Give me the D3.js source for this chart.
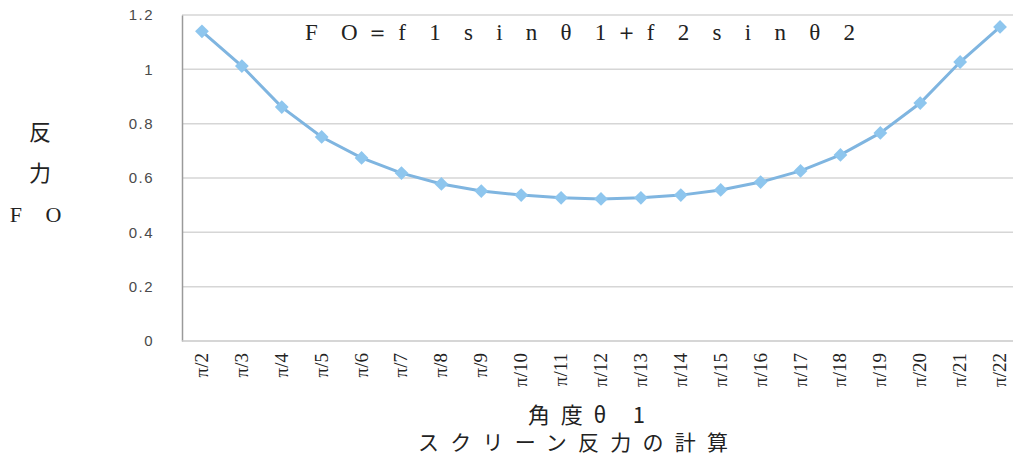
<!DOCTYPE html>
<html>
<head>
<meta charset="utf-8">
<script src="https://cdn.jsdelivr.net/npm/d3@7"></script>
<style>
  body { margin: 0; background: #fff; }
  svg { display: block; }
</style>
</head>
<body>
<div id="chart"></div>
<script>
// 角度θ1 のカテゴリ
const categories = ["π/2", "π/3", "π/4", "π/5", "π/6", "π/7", "π/8", "π/9", "π/10", "π/11",
    "π/12", "π/13", "π/14", "π/15", "π/16", "π/17", "π/18", "π/19", "π/20", "π/21", "π/22"];

// 反力 FO の値
const values = [1.14, 1.012, 0.861, 0.751, 0.674, 0.618, 0.578, 0.552, 0.537, 0.527,
    0.523, 0.527, 0.537, 0.556, 0.585, 0.626, 0.685, 0.766, 0.876, 1.027, 1.156];

const yTicks = [0, 0.2, 0.4, 0.6, 0.8, 1, 1.2];

const width = 1013;
const height = 461;
const plotLeft = 182, plotRight = 1020, plotTop = 15, plotBottom = 341;

const svg = d3.select('#chart').append('svg')
    .attr('width', width)
    .attr('height', height);

const x = d3.scaleBand()
    .domain(categories)
    .range([plotLeft, plotRight]);

const y = d3.scaleLinear()
    .domain([0, 1.2])
    .range([plotBottom, plotTop]);

// グリッド線
svg.append('g')
    .selectAll('line')
    .data(yTicks.filter(d => d > 0))
    .enter().append('line')
    .attr('x1', plotLeft)
    .attr('x2', width)
    .attr('y1', d => y(d))
    .attr('y2', d => y(d))
    .attr('stroke', '#d6d6d6')
    .attr('stroke-width', 1.5);

// Y軸
const yAxis = svg.append('g')
    .attr('transform', `translate(${plotLeft},0)`)
    .call(d3.axisLeft(y).tickValues(yTicks).tickSize(0).tickPadding(28).tickFormat(d => d));
yAxis.select('.domain').attr('stroke', '#9a9a9a').attr('stroke-width', 1.5);
yAxis.selectAll('text')
    .attr('font-family', '"Liberation Sans", sans-serif')
    .attr('font-size', 15)
    .attr('letter-spacing', 1.5)
    .attr('fill', '#4a4a4a');

// X軸
svg.append('line')
    .attr('x1', plotLeft).attr('x2', width)
    .attr('y1', plotBottom).attr('y2', plotBottom)
    .attr('stroke', '#c8c8c8')
    .attr('stroke-width', 1.5);

svg.append('g')
    .selectAll('text')
    .data(categories)
    .enter().append('text')
    .attr('transform', d => `translate(${x(d) + x.bandwidth() / 2 + 6},353) rotate(-90)`)
    .attr('text-anchor', 'end')
    .attr('font-family', '"Liberation Serif", serif')
    .attr('font-size', 19)
    .attr('fill', '#222')
    .text(d => d);

// 折れ線
const line = d3.line()
    .x((d, i) => x(categories[i]) + x.bandwidth() / 2)
    .y(d => y(d));

svg.append('path')
    .datum(values)
    .attr('d', line)
    .attr('fill', 'none')
    .attr('stroke', '#7fb5e0')
    .attr('stroke-width', 3);

// ひし形マーカー
svg.append('g')
    .selectAll('path')
    .data(values)
    .enter().append('path')
    .attr('d', d3.symbol().type(d3.symbolSquare).size(95))
    .attr('transform', (d, i) => `translate(${x(categories[i]) + x.bandwidth() / 2},${y(d)}) rotate(45)`)
    .attr('fill', '#8ec6ee');

// 式タイトル
svg.append('text')
    .attr('x', 305)
    .attr('y', 40)
    .attr('textLength', 550)
    .attr('lengthAdjust', 'spacing')
    .attr('font-family', '"Liberation Serif", serif')
    .attr('font-size', 23)
    .attr('fill', '#222')
    .text('F O＝f 1 s i n θ 1＋f 2 s i n θ 2');

// Y軸ラベル
const yLabel = ['反', '力', 'F O'];
svg.append('g')
    .selectAll('text')
    .data(yLabel)
    .enter().append('text')
    .attr('x', 40)
    .attr('y', (d, i) => 140 + i * 41)
    .attr('text-anchor', 'middle')
    .attr('font-family', (d, i) => i === 2 ? '"Liberation Serif", serif' : '"Noto Sans CJK JP", serif')
    .attr('font-size', 22)
    .attr('fill', '#222')
    .attr('letter-spacing', (d, i) => i === 2 ? 9 : 0)
    .text(d => d);

// X軸タイトル
svg.append('text')
    .attr('x', 528)
    .attr('y', 423)
    .attr('textLength', 117)
    .attr('lengthAdjust', 'spacing')
    .attr('font-family', '"Noto Sans CJK JP", serif')
    .attr('font-size', 22)
    .attr('fill', '#222')
    .text('角度θ 1');

svg.append('text')
    .attr('x', 418)
    .attr('y', 450)
    .attr('textLength', 310)
    .attr('lengthAdjust', 'spacing')
    .attr('font-family', '"Noto Sans CJK JP", serif')
    .attr('font-size', 21)
    .attr('fill', '#222')
    .text('スクリーン反力の計算');
</script>
</body>
</html>
